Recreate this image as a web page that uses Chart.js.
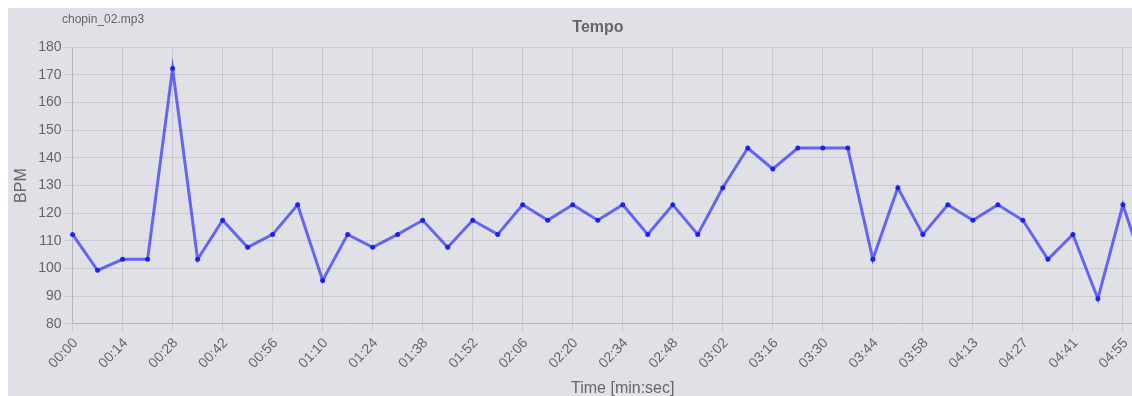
<!DOCTYPE html>
<html>
<head>
<meta charset="utf-8">
<script src="https://cdn.jsdelivr.net/npm/chart.js@4/dist/chart.umd.min.js"></script>
<style>
  html, body { margin: 0; padding: 0; background: #ffffff; }
  #view { position: fixed; left: 0; top: 0; width: 1132px; height: 396px; overflow: hidden; background: #ffffff; }
  #wrap { position: absolute; left: 8px; top: 8px; width: 1180px; height: 394px; }
  #c { background: #dfe1e6; display: block; }
  #file { position: absolute; left: 54px; top: 4px; font: 12px "Liberation Sans", Arial, sans-serif; color: #666; }
</style>
</head>
<body>
<div id="view">
  <div id="wrap">
    <canvas id="c" width="1180" height="394"></canvas>
    <div id="file">chopin_02.mp3</div>
  </div>
</div>
<script>
const timeLabels = [
  "00:00","00:07","00:14","00:21","00:28","00:35","00:42","00:49","00:56","01:03",
  "01:10","01:17","01:24","01:31","01:38","01:45","01:52","01:59","02:06","02:13",
  "02:20","02:27","02:34","02:41","02:48","02:55","03:02","03:09","03:16","03:23",
  "03:30","03:37","03:44","03:51","03:58","04:05","04:13","04:20","04:27","04:34",
  "04:41","04:48","04:55","05:02","05:09"
];
const bpmValues = [
  112.35, 99.38, 103.36, 103.36, 172.27, 103.36, 117.45, 107.67, 112.35, 123.05,
  95.70, 112.35, 107.67, 112.35, 117.45, 107.67, 117.45, 112.35, 123.05, 117.45,
  123.05, 117.45, 123.05, 112.35, 123.05, 112.35, 129.20, 143.55, 135.99, 143.55,
  143.55, 143.55, 103.36, 129.20, 112.35, 123.05, 117.45, 123.05, 117.45, 103.36,
  112.35, 89.10, 123.05, 95.70, 112.35
];
const yMin = 80, yMax = 180, yStep = 10;

const FONT = "'Liberation Sans', Arial, sans-serif";
Chart.defaults.font.family = FONT;
Chart.defaults.color = '#666';

new Chart(document.getElementById('c'), {
  type: 'line',
  data: {
    labels: timeLabels,
    datasets: [{
      label: 'Tempo',
      data: bpmValues,
      borderColor: 'rgba(0,0,255,0.55)',
      borderWidth: 3,
      pointRadius: 2.5,
      pointBorderWidth: 0,
      pointBackgroundColor: 'rgba(20,20,255,0.9)',
      tension: 0,
      fill: false
    }]
  },
  options: {
    responsive: false,
    animation: false,
    devicePixelRatio: 1,
    plugins: {
      legend: { display: false },
      tooltip: { enabled: false },
      title: {
        display: true,
        text: 'Tempo',
        color: '#666',
        font: { size: 16, weight: 'bold', family: FONT },
        padding: { top: 10, bottom: 10 }
      }
    },
    scales: {
      x: {
        ticks: {
          autoSkip: false,
          minRotation: 46,
          maxRotation: 46,
          labelOffset: 3,
          color: '#666',
          font: { size: 14, family: FONT },
          callback: function(v, i) { return i % 2 === 0 ? timeLabels[i] : null; }
        },
        grid: { color: 'rgba(0,0,0,0.1)' },
        title: { display: true, text: 'Time [min:sec]', color: '#666', font: { size: 16, family: FONT } }
      },
      y: {
        min: yMin,
        max: yMax,
        ticks: { stepSize: yStep, color: '#666', font: { size: 14, family: FONT } },
        grid: { color: 'rgba(0,0,0,0.1)' },
        title: { display: true, text: 'BPM', color: '#666', font: { size: 16, family: FONT } }
      }
    }
  }
});
</script>
</body>
</html>
